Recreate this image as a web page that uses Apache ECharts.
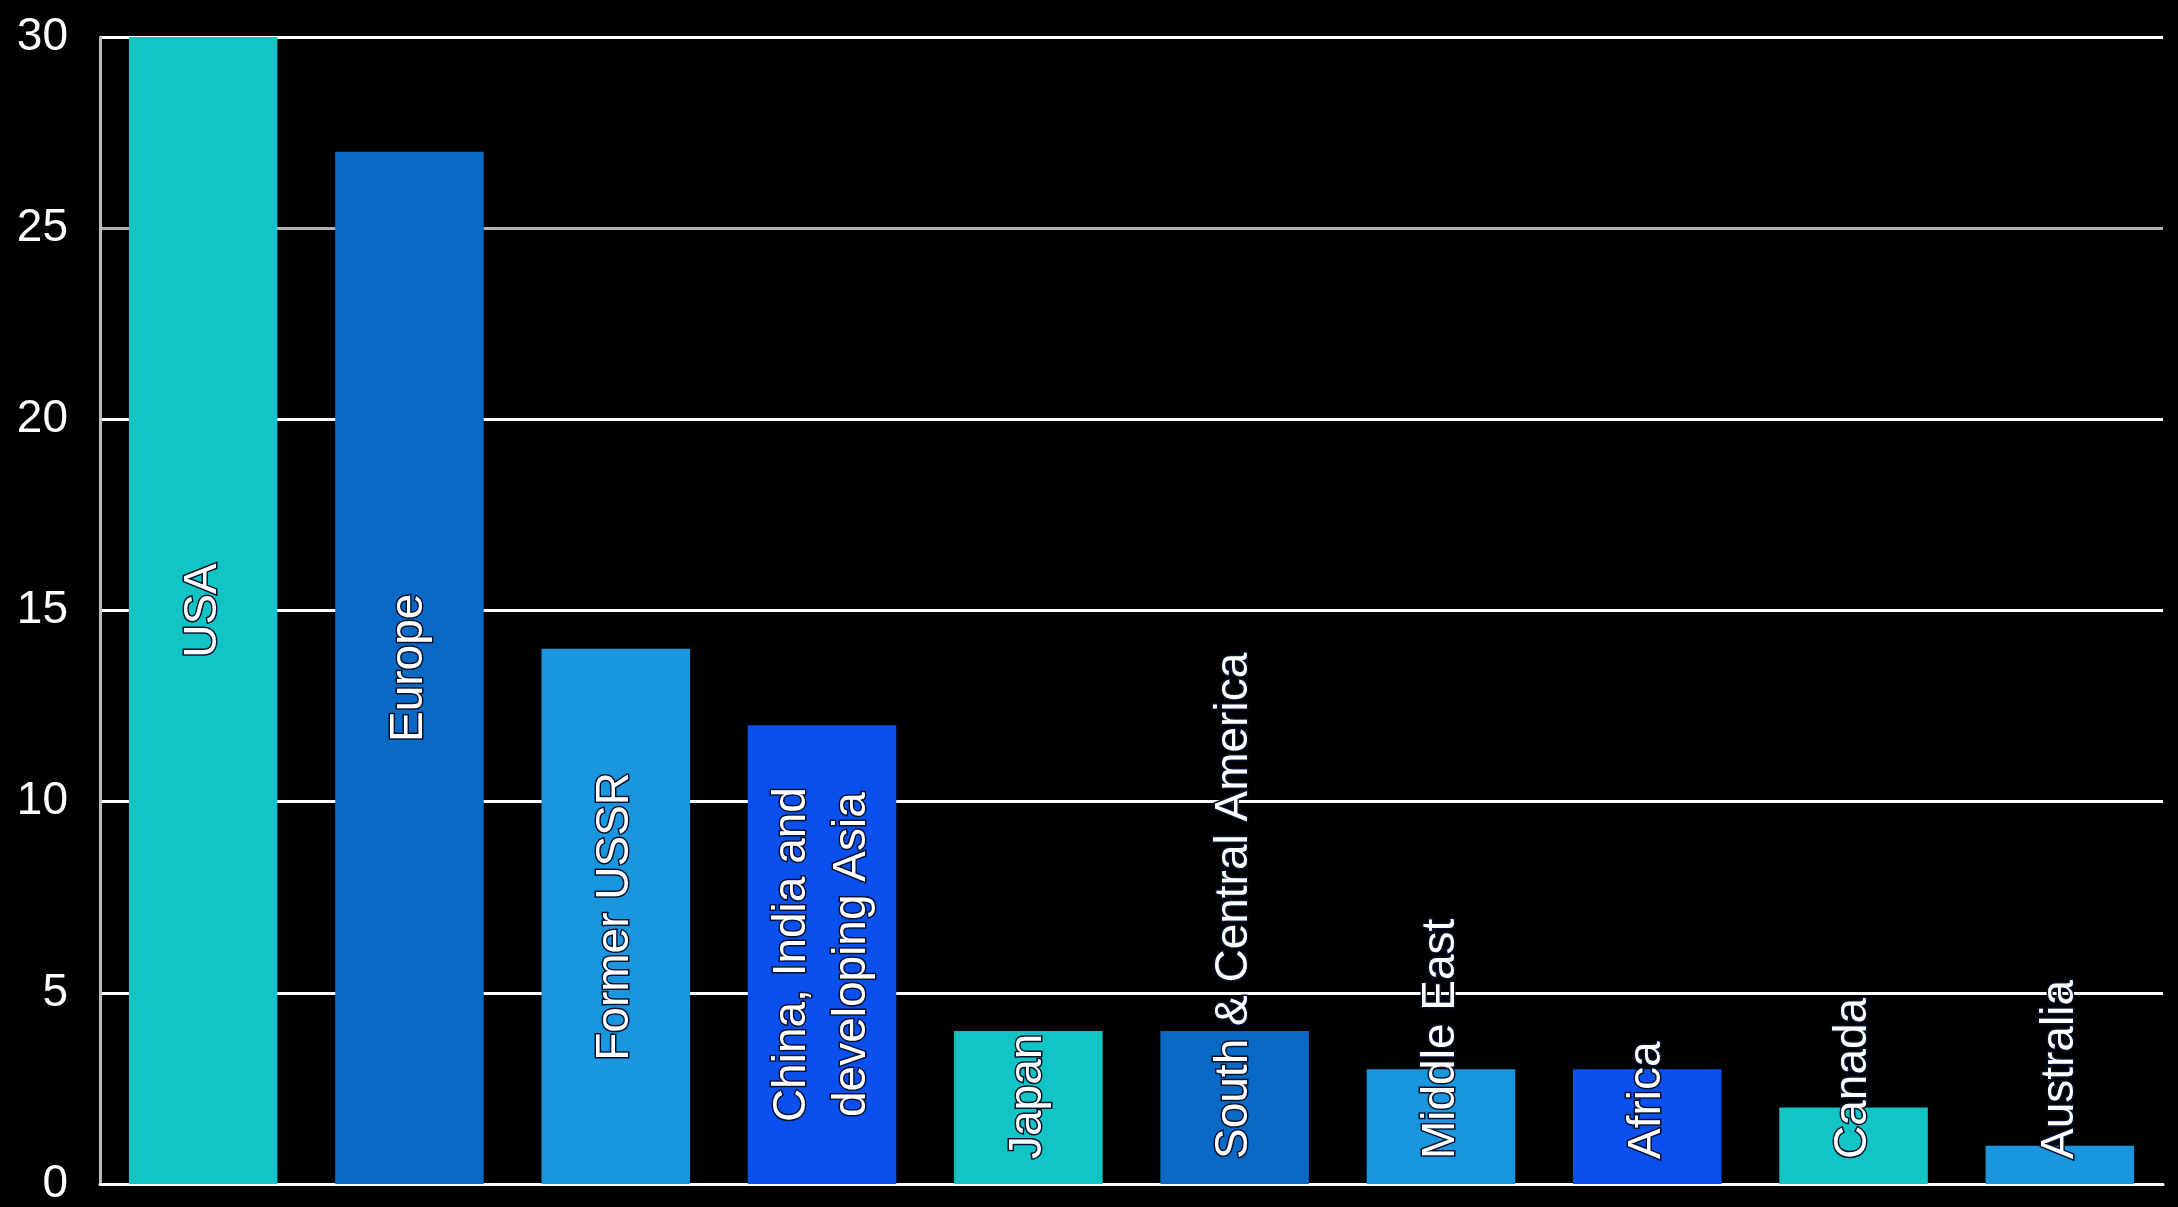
<!DOCTYPE html>
<html>
<head>
<meta charset="utf-8">
<script src="https://cdn.jsdelivr.net/npm/echarts@6/dist/echarts.min.js"></script>
<style>
  html, body { margin: 0; padding: 0; background: #000; }
  #chart { width: 2178px; height: 1207px; }
</style>
</head>
<body>
<div id="chart"></div>
<script>
const categories = ['USA', 'Europe', 'Former USSR', 'China, India and\ndeveloping Asia', 'Japan', 'South & Central America', 'Middle East', 'Africa', 'Canada', 'Australia'];
const values = [30, 27, 14, 12, 4, 4, 3, 3, 2, 1];
const yTicks = { min: 0, max: 30, interval: 5 };
const palette = ['#12c4c4', '#0a69c4', '#1a96de', '#0a50ee', '#12c4c4', '#0a69c4', '#1a96de', '#0a50ee', '#12c4c4', '#1a96de'];

const FONT = '"Liberation Sans", Arial, Helvetica, sans-serif';
const chart = echarts.init(document.getElementById('chart'), null, { renderer: 'canvas' });

const seriesData = values.map((v, i) => {
  const big = v >= 10;
  return {
    value: v,
    itemStyle: { color: palette[i] },
    label: big
      ? { position: 'inside', align: 'center', verticalAlign: 'middle' }
      : { position: 'insideBottom', distance: 25, align: 'left', verticalAlign: 'middle' }
  };
});

chart.setOption({
  backgroundColor: '#000',
  animation: false,
  grid: { left: 100, right: 15, top: 37, bottom: 18, containLabel: false },
  xAxis: {
    type: 'category',
    data: categories,
    axisLine: { show: true, lineStyle: { color: '#ffffff', width: 3 } },
    axisTick: { show: false },
    axisLabel: { show: false }
  },
  yAxis: {
    type: 'value',
    min: yTicks.min,
    max: yTicks.max,
    interval: yTicks.interval,
    axisLine: { show: true, lineStyle: { color: '#bbbbbb', width: 3 } },
    axisTick: { show: false },
    axisLabel: {
      color: '#ffffff',
      fontFamily: FONT,
      fontSize: 46,
      margin: 32,
      padding: [0, 0, 14, 0]
    },
    splitLine: {
      show: true,
      lineStyle: { color: ['#ffffff', '#ffffff', '#ffffff', '#ffffff', '#ffffff', '#b0b0b0', '#ffffff'], width: 3 }
    }
  },
  series: [{
    type: 'bar',
    data: seriesData,
    barCategoryGap: '28%',
    label: {
      show: true,
      rotate: 90,
      formatter: (p) => p.name,
      color: '#ffffff',
      fontFamily: FONT,
      fontSize: 46,
      lineHeight: 60,
      textBorderColor: '#06122c',
      textBorderWidth: 3
    }
  }]
});
</script>
</body>
</html>
